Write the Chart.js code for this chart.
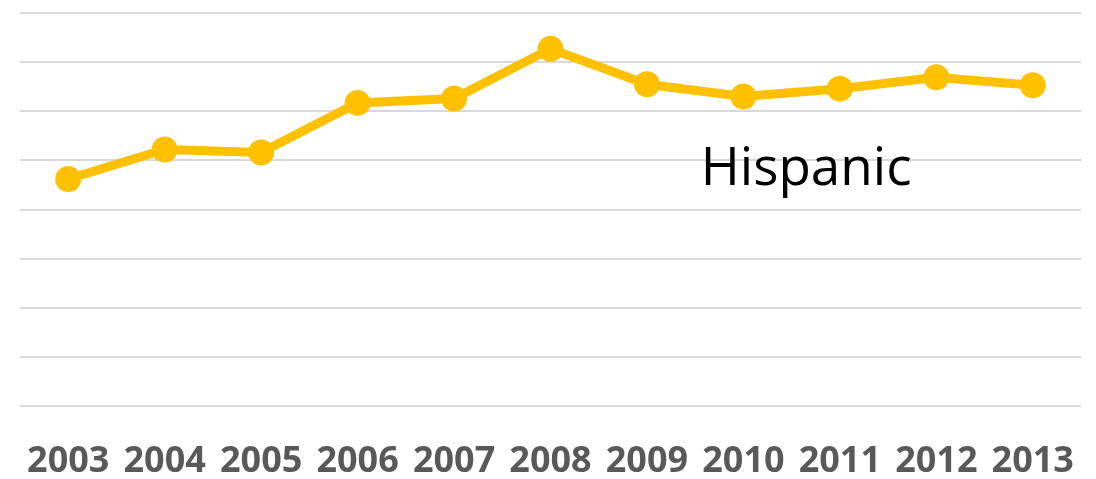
<!DOCTYPE html>
<html>
<head>
<meta charset="utf-8">
<script src="https://cdn.jsdelivr.net/npm/chart.js@4/dist/chart.umd.min.js"></script>
<style>
  html, body { margin: 0; padding: 0; background: #fff; }
  canvas { display: block; }
</style>
</head>
<body>
<canvas id="myChart" width="1096" height="479"></canvas>
<script>
var years = ['2003','2004','2005','2006','2007','2008','2009','2010','2011','2012','2013'];
var hispanic = [4.62, 5.22, 5.16, 6.17, 6.26, 7.27, 6.55, 6.30, 6.46, 6.69, 6.53];
var seriesName = 'Hispanic';

// draws the series name inside the plot, like the original
var seriesLabel = {
	id: 'seriesLabel',
	afterDatasetsDraw: function(chart){
		var ctx = chart.ctx;
		var x = chart.scales.x.getPixelForValue(7.65);
		var y = chart.scales.y.getPixelForValue(4.8);
		ctx.save();
		ctx.font = '53px "Open Sans"';
		ctx.fillStyle = '#000';
		ctx.textAlign = 'center';
		ctx.textBaseline = 'middle';
		ctx.fillText(seriesName, x, y);
		ctx.restore();
	}
};

var myLineChart = new Chart(document.getElementById('myChart'), {
	type: 'line',
	data: {
		labels: years,
		datasets: [{
			label: seriesName,
			data: hispanic,
			borderColor: '#FFC000',
			backgroundColor: '#FFC000',
			borderWidth: 9,
			pointRadius: 13,
			pointHoverRadius: 13,
			pointBorderWidth: 0,
			tension: 0
		}]
	},
	options: {
		responsive: false,
		animation: false,
		layout: { padding: { left: 20, right: 15, top: 1, bottom: 0 } },
		plugins: {
			legend: { display: false },
			tooltip: { enabled: false }
		},
		scales: {
			x: {
				offset: true,
				grid: { display: false, drawTicks: false },
				border: { display: false },
				afterFit: function(scale){
					scale.height = 73;
					scale.paddingLeft = 0;
					scale.paddingRight = 0;
				},
				ticks: {
					color: '#595959',
					padding: 38,
					maxRotation: 0,
					autoSkip: false,
					font: { family: '"Open Sans"', weight: 'bold', size: 36, lineHeight: 1 }
				}
			},
			y: {
				min: 0,
				max: 8,
				ticks: { display: false, stepSize: 1 },
				grid: { color: '#d9d9d9', lineWidth: 2, drawTicks: false },
				border: { display: false }
			}
		}
	},
	plugins: [seriesLabel]
});
</script>
</body>
</html>
